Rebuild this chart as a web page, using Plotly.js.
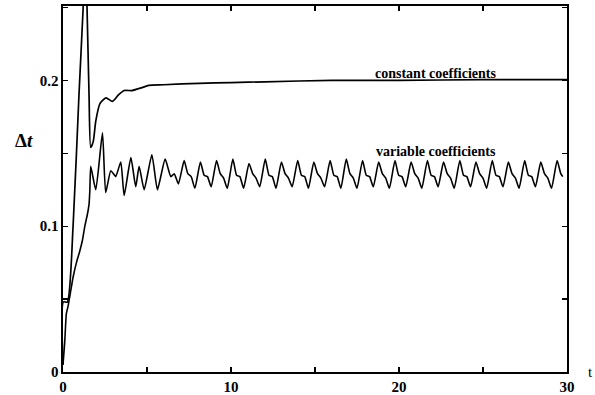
<!DOCTYPE html>
<html><head><meta charset="utf-8">
<script src="https://cdn.plot.ly/plotly-3.0.1.min.js"></script>
<style>html,body{margin:0;padding:0;background:#fff}#c{width:595px;height:395px}</style>
</head><body><div id="c"></div>
<script>
// constant coefficients
const constX = [0, 0.02, 0.26, 0.6, 0.95, 1.2, 1.32, 1.43, 1.55, 1.65, 1.8, 1.95, 2.2, 2.56, 2.94, 3.3, 3.64, 4.1, 4.7, 5.1, 6, 8.1, 10, 12, 16, 20, 25, 30];
const constY = [0.005, 0.048, 0.048, 0.1, 0.19, 0.25, 0.29, 0.25, 0.19, 0.154, 0.158, 0.172, 0.184, 0.188, 0.1856, 0.19, 0.193, 0.193, 0.195, 0.1966, 0.197, 0.198, 0.1985, 0.199, 0.2, 0.2, 0.2005, 0.2005];
// variable coefficients
const varX = [0, 0.1, 0.2, 0.3, 0.45, 0.6, 0.8, 1.0, 1.15, 1.3, 1.45, 1.55, 1.6, 1.65,
  1.95, 2.35, 2.54, 2.84, 3.0, 3.14, 3.44, 3.64, 4.04, 4.33, 4.53, 4.83, 5.29, 5.62, 6.08, 6.42, 6.62, 6.87,
  7.21, 7.43, 7.63, 7.85, 8.18, 8.40, 8.60, 8.82, 9.14, 9.36, 9.56, 9.78, 10.11, 10.33, 10.53, 10.75,
  11.07, 11.29, 11.49, 11.71, 12.04, 12.26, 12.46, 12.68, 13.00, 13.22, 13.42, 13.64, 13.97, 14.19, 14.39, 14.61,
  14.93, 15.15, 15.35, 15.57, 15.90, 16.12, 16.32, 16.54, 16.86, 17.08, 17.28, 17.50, 17.83, 18.05, 18.25, 18.47,
  18.79, 19.01, 19.21, 19.43, 19.76, 19.98, 20.18, 20.40, 20.72, 20.94, 21.14, 21.36, 21.69, 21.91, 22.11, 22.33,
  22.65, 22.87, 23.07, 23.29, 23.62, 23.84, 24.04, 24.26, 24.58, 24.80, 25.00, 25.22, 25.55, 25.77, 25.97, 26.19,
  26.51, 26.73, 26.93, 27.15, 27.48, 27.70, 27.90, 28.12, 28.44, 28.66, 28.86, 29.08, 29.41, 29.63, 29.75];
const varY = [0.005, 0.02, 0.04, 0.045, 0.055, 0.065, 0.075, 0.083, 0.09, 0.1, 0.108, 0.115, 0.125, 0.141,
  0.125, 0.164, 0.123, 0.138, 0.136, 0.134, 0.144, 0.121, 0.147, 0.127, 0.141, 0.125, 0.149, 0.125, 0.146, 0.134, 0.136, 0.129,
  0.145, 0.136, 0.134, 0.126, 0.144, 0.135, 0.134, 0.127, 0.145, 0.136, 0.133, 0.126, 0.146, 0.135, 0.134, 0.126,
  0.143, 0.136, 0.133, 0.127, 0.146, 0.135, 0.134, 0.126, 0.144, 0.136, 0.133, 0.127, 0.145, 0.135, 0.134, 0.126,
  0.144, 0.136, 0.133, 0.127, 0.145, 0.135, 0.134, 0.126, 0.146, 0.136, 0.133, 0.126, 0.145, 0.135, 0.134, 0.127,
  0.144, 0.136, 0.133, 0.126, 0.145, 0.135, 0.134, 0.127, 0.144, 0.136, 0.133, 0.126, 0.145, 0.135, 0.134, 0.127,
  0.144, 0.136, 0.133, 0.126, 0.145, 0.135, 0.134, 0.127, 0.144, 0.136, 0.133, 0.126, 0.145, 0.135, 0.134, 0.127,
  0.144, 0.136, 0.133, 0.126, 0.145, 0.135, 0.134, 0.127, 0.144, 0.136, 0.133, 0.126, 0.145, 0.136, 0.134];
const xTickVals = [0, 5, 10, 15, 20, 25, 30];
const xTickText = ['0', '', '10', '', '20', '', '30'];
const yTickVals = [0, 0.05, 0.1, 0.15, 0.2, 0.25];
const yTickText = ['0', '', '0.1', '', '0.2', ''];

const F = 'Liberation Serif, Times New Roman, serif';
const traces = [
  {x: constX, y: constY, mode: 'lines', line: {color: '#000', width: 1.7, shape: 'spline', smoothing: 0.6}, hoverinfo: 'skip'},
  {x: varX, y: varY, mode: 'lines', line: {color: '#000', width: 1.6, shape: 'spline', smoothing: 0.5}, hoverinfo: 'skip'}
];
const axisCommon = {
  showgrid: false, zeroline: false, showline: true, linecolor: '#000', linewidth: 1.6,
  mirror: 'ticks', ticks: 'inside', ticklen: 5, tickcolor: '#000', tickwidth: 1.2,
  tickfont: {family: F, size: 15, color: '#000', weight: 'bold'}
};
const layout = {
  width: 595, height: 395,
  margin: {l: 63, r: 28, t: 6, b: 23},
  paper_bgcolor: '#fff', plot_bgcolor: '#fff',
  showlegend: false,
  xaxis: Object.assign({}, axisCommon, {range: [0, 30], tickmode: 'array', tickvals: xTickVals, ticktext: xTickText, ticklabelstandoff: 0}),
  yaxis: Object.assign({}, axisCommon, {range: [0, 0.251], tickmode: 'array', tickvals: yTickVals, ticktext: yTickText, ticklabelstandoff: 0}),
  annotations: [
    {text: 'constant coefficients', x: 22.2, y: 0.205, xref: 'x', yref: 'y', showarrow: false,
     font: {family: F, size: 14, color: '#000', weight: 'bold'}},
    {text: 'variable coefficients', x: 22.2, y: 0.151, xref: 'x', yref: 'y', showarrow: false,
     font: {family: F, size: 14, color: '#000', weight: 'bold'}},
    {text: 'Δ<i>t</i>', x: -0.1, y: 0.159, xref: 'paper', yref: 'y', showarrow: false,
     font: {family: F, size: 19, color: '#000', weight: 'bold'}},
    {text: 't', x: 1.055, y: 0, xref: 'paper', yref: 'y', showarrow: false,
     font: {family: F, size: 15, color: '#000'}}
  ]
};
Plotly.newPlot('c', traces, layout, {staticPlot: true, displayModeBar: false});
</script></body></html>
